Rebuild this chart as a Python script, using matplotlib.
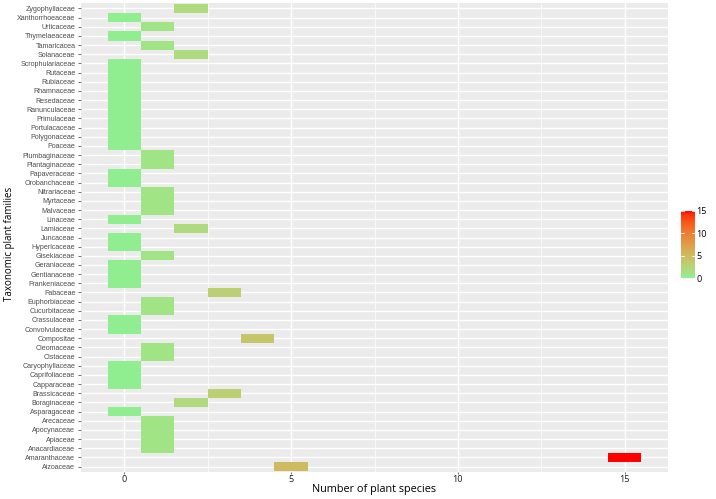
import numpy as np
import matplotlib
matplotlib.use("Agg")
import matplotlib.pyplot as plt
from matplotlib.colors import ListedColormap, Normalize
import matplotlib.colorbar as mcolorbar

# Families listed top to bottom
families = [
    "Zygophyllaceae", "Xanthorrhoeaceae", "Urticaceae", "Thymelaeaceae", "Tamaricacea",
    "Solanaceae", "Scrophulariaceae", "Rutaceae", "Rubiaceae", "Rhamnaceae",
    "Resedaceae", "Ranunculaceae", "Primulaceae", "Portulacaceae", "Polygonaceae",
    "Poaceae", "Plumbaginaceae", "Plantaginaceae", "Papaveraceae", "Orobanchaceae",
    "Nitrariaceae", "Myrtaceae", "Malvaceae", "Linaceae", "Lamiaceae",
    "Juncaceae", "Hypericaceae", "Gisekiaceae", "Geraniaceae", "Gentianaceae",
    "Frankeniaceae", "Fabaceae", "Euphorbiaceae", "Cucurbitaceae", "Crassulaceae",
    "Convolvulaceae", "Compositae", "Cleomaceae", "Cistaceae", "Caryophyllaceae",
    "Caprifoliaceae", "Capparaceae", "Brassicaceae", "Boraginaceae", "Asparagaceae",
    "Arecaceae", "Apocynaceae", "Apiaceae", "Anacardiaceae", "Amaranthaceae",
    "Aizoaceae",
]
species = [
    2, 0, 1, 0, 1,
    2, 0, 0, 0, 0,
    0, 0, 0, 0, 0,
    0, 1, 1, 0, 0,
    1, 1, 1, 0, 2,
    0, 0, 1, 0, 0,
    0, 3, 1, 1, 0,
    0, 4, 1, 1, 0,
    0, 0, 3, 2, 0,
    1, 1, 1, 1, 15,
    5,
]
x_ticks = [0, 5, 10, 15]
cbar_ticks = [0, 5, 10, 15]

# ---- Lab interpolation like ggplot's scale_fill_gradient ----
def srgb_to_lab(rgb):
    rgb = np.asarray(rgb, float)
    lin = np.where(rgb <= 0.04045, rgb / 12.92, ((rgb + 0.055) / 1.055) ** 2.4)
    M = np.array([[0.4124564, 0.3575761, 0.1804375],
                  [0.2126729, 0.7151522, 0.0721750],
                  [0.0193339, 0.1191920, 0.9503041]])
    xyz = M @ lin
    wp = np.array([0.95047, 1.0, 1.08883])
    t = xyz / wp
    f = np.where(t > (6/29) ** 3, np.cbrt(t), t / (3 * (6/29) ** 2) + 4/29)
    return np.array([116 * f[1] - 16, 500 * (f[0] - f[1]), 200 * (f[1] - f[2])])

def lab_to_srgb(lab):
    L, a, b = lab
    fy = (L + 16) / 116
    fx = fy + a / 500
    fz = fy - b / 200
    def finv(f):
        return np.where(f > 6/29, f ** 3, 3 * (6/29) ** 2 * (f - 4/29))
    wp = np.array([0.95047, 1.0, 1.08883])
    xyz = np.array([finv(fx), finv(fy), finv(fz)]) * wp
    Minv = np.array([[3.2404542, -1.5371385, -0.4985314],
                     [-0.9692660, 1.8760108, 0.0415560],
                     [0.0556434, -0.2040259, 1.0572252]])
    lin = Minv @ xyz
    lin = np.clip(lin, 0, 1)
    rgb = np.where(lin <= 0.0031308, 12.92 * lin, 1.055 * lin ** (1/2.4) - 0.055)
    return np.clip(rgb, 0, 1)

low = srgb_to_lab(np.array([144, 238, 144]) / 255)   # lightgreen
high = srgb_to_lab(np.array([255, 0, 0]) / 255)      # red
cols = [lab_to_srgb(low + (high - low) * t) for t in np.linspace(0, 1, 256)]
cmap = ListedColormap(cols)
vmin, vmax = 0, 15
norm = Normalize(vmin, vmax)

fig = plt.figure(figsize=(7.16, 4.99), dpi=100)
ax = fig.add_axes([81/716, 1 - 472/499, (668-81)/716, (472-3)/499])
ax.set_facecolor("#EBEBEB")

n = len(families)
ypos = np.arange(n)[::-1]  # top family at highest y

# grid
for xv in [2.5, 7.5, 12.5]:
    ax.axvline(xv, color="white", lw=0.5, zorder=0.5)
for xv in x_ticks:
    ax.axvline(xv, color="white", lw=1.0, zorder=0.5)
for yv in ypos:
    ax.axhline(yv, color="white", lw=1.0, zorder=0.5)

ax.barh(ypos, [1.0] * n, left=np.array(species) - 0.5, height=1.0,
        color=[cmap(norm(v)) for v in species], zorder=2, linewidth=0)

ax.set_xlim(-1.3, 16.3)
ax.set_ylim(-0.6, n - 1 + 0.6)
ax.set_yticks(ypos)
ax.set_yticklabels(families, fontsize=5.15, color="#4D4D4D", family="Liberation Sans")
ax.set_xticks(x_ticks)
ax.set_xticklabels([str(v) for v in x_ticks], fontsize=6.5, color="#1A1A1A", family="Open Sans")
ax.tick_params(axis="y", length=2.0, width=0.5, color="#333333", pad=2)
ax.tick_params(axis="x", length=1.5, width=0.5, color="#333333", pad=1)
for s in ax.spines.values():
    s.set_visible(False)
ax.set_xlabel("Number of plant species", fontsize=7.8, family="Open Sans", labelpad=0)
fig.text(10/716, 1 - 244/499, "Taxonomic plant families", rotation=90,
         ha="center", va="center", fontsize=7.0, family="Open Sans")

# colorbar
cax = fig.add_axes([681/716, 1 - 278/499, 14/716, 67/499])
cb = mcolorbar.ColorbarBase(cax, cmap=cmap, norm=norm, orientation="vertical")
cb.outline.set_visible(False)
cb.set_ticks(cbar_ticks)
cb.ax.tick_params(length=0, pad=1, labelsize=6.5)
for t in cb.ax.get_yticklabels():
    t.set_family("Open Sans")
for v in cbar_ticks:
    cax.plot([0, 0.2], [v, v], color="white", lw=0.6)
    cax.plot([0.8, 1], [v, v], color="white", lw=0.6)

fig.savefig("out.png", dpi=100)
